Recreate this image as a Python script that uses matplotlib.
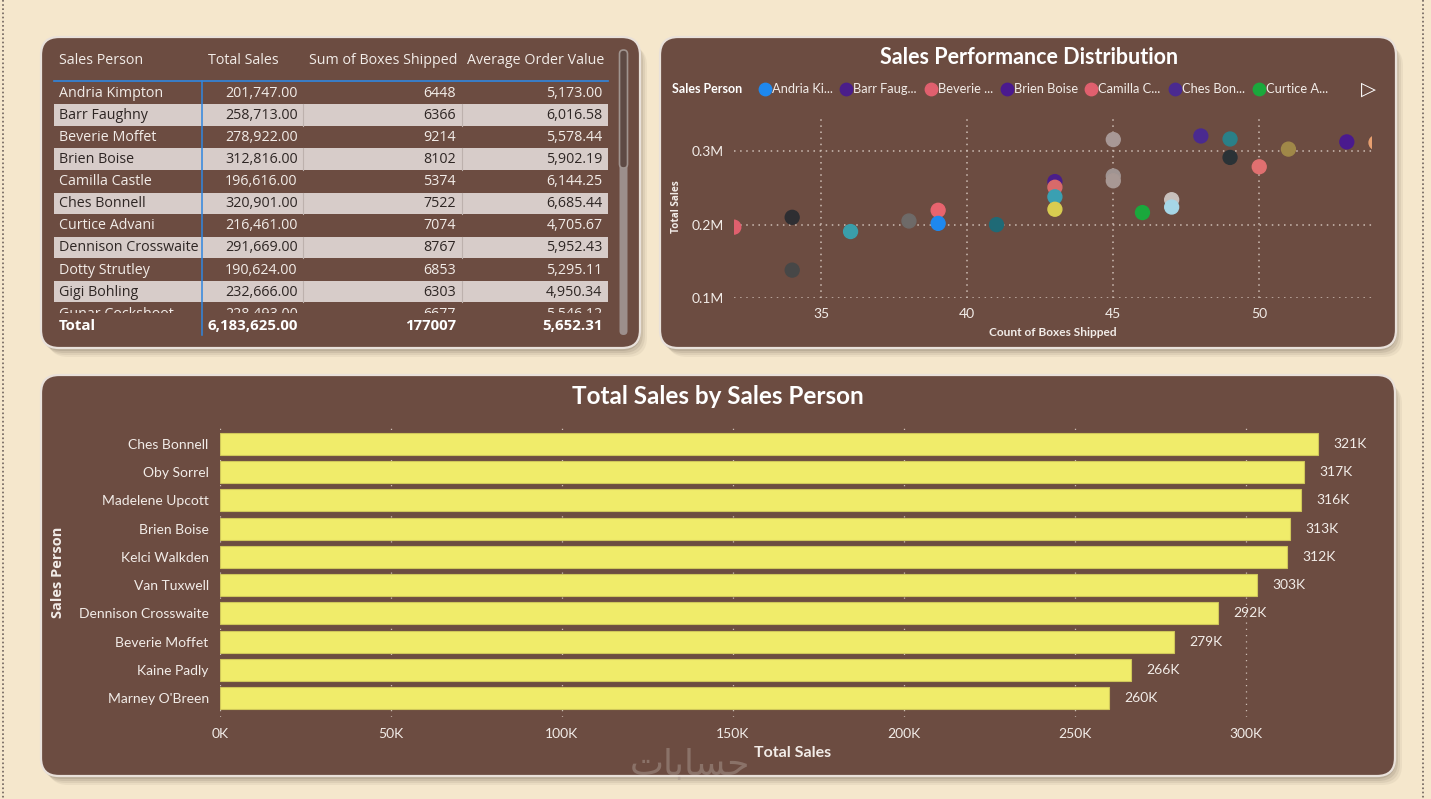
import numpy as np
import matplotlib.pyplot as plt
from matplotlib.patches import FancyBboxPatch, Rectangle
from matplotlib.ticker import FuncFormatter, FixedLocator

plt.rcParams['font.family'] = ['Open Sans', 'DejaVu Sans']
TITLE_FONT = ['Lato', 'DejaVu Sans']

# ---- table data ----
table_cols = ['Sales Person', 'Total Sales', 'Sum of Boxes Shipped', 'Average Order Value']
table_names = ['Andria Kimpton', 'Barr Faughny', 'Beverie Moffet', 'Brien Boise', 'Camilla Castle',
               'Ches Bonnell', 'Curtice Advani', 'Dennison Crosswaite', 'Dotty Strutley',
               'Gigi Bohling', 'Gunar Cockshoot']
table_sales = [201747, 258713, 278922, 312816, 196616, 320901, 216461, 291669, 190624, 232666, 228493]
table_boxes = [6448, 6366, 9214, 8102, 5374, 7522, 7074, 8767, 6853, 6303, 6677]
table_aov = [5173.00, 6016.58, 5578.44, 5902.19, 6144.25, 6685.44, 4705.67, 5952.43, 5295.11,
             4950.34, 5546.12]
total_sales = 6183625
total_boxes = 177007
total_aov = 5652.31

# ---- scatter data (count of boxes shipped vs total sales) ----
scatter_x = [32, 34, 34, 36, 38, 39, 39, 41, 43, 43, 43, 43, 45, 45, 45, 46, 47, 47,
             48, 49, 49, 50, 51, 53, 54]
scatter_y = [196616, 210000, 138000, 190624, 205000, 219600, 201747, 200000, 258713, 251000,
             238000, 221000, 316000, 266300, 259800, 216461, 234000, 224000, 320901, 316800,
             291669, 278922, 303000, 312816, 311800]
scatter_colors = ['#E0606E', '#2E2E32', '#474747', '#3A9EAA', '#6E6A68', '#E8646E', '#1E88EE',
                  '#1F6A76', '#4A1E8A', '#D86A6A', '#3AA0B2', '#D8CC50', '#A89896', '#A09492',
                  '#A89894', '#1AA83C', '#C8C0BC', '#A6D6E6', '#4A2A90', '#2A8088', '#2A3236',
                  '#E07070', '#A08848', '#4A1A8E', '#E8A070']
legend_labels = ['Andria Ki...', 'Barr Faug...', 'Beverie ...', 'Brien Boise', 'Camilla C...',
                 'Ches Bon...', 'Curtice A...']
legend_colors = ['#1E88EE', '#4A1E8A', '#E0606E', '#4A1A8E', '#E0606E', '#4A2A90', '#1AA83C']

# ---- bar data ----
bar_names = ['Ches Bonnell', 'Oby Sorrel', 'Madelene Upcott', 'Brien Boise', 'Kelci Walkden',
             'Van Tuxwell', 'Dennison Crosswaite', 'Beverie Moffet', 'Kaine Padly', "Marney O'Breen"]
bar_sales = [320901, 316800, 316000, 312816, 311800, 303000, 291669, 278922, 266300, 259800]

W, H = 1431, 799
BG = '#F5E7CC'
PANEL = '#6C4C41'
LIGHT = '#F2ECE8'
GRID = '#CDBDB4'

fig = plt.figure(figsize=(W / 100, H / 100), dpi=100, facecolor=BG)
bg = fig.add_axes([0, 0, 1, 1])
bg.set_xlim(0, W)
bg.set_ylim(H, 0)
bg.axis('off')


def frac(x0, y0, x1, y1):
    return [x0 / W, 1 - y1 / H, (x1 - x0) / W, (y1 - y0) / H]


def panel(x0, y0, x1, y1):
    # soft shadow, then the rounded card
    for i, a in enumerate([0.10, 0.14, 0.2, 0.28]):
        off = 9 - i * 2
        sh = FancyBboxPatch((x0 + off - 2, y0 + off), x1 - x0, y1 - y0,
                            boxstyle='round,pad=0,rounding_size=20',
                            fc='#8E8270', ec='none', alpha=a, zorder=1)
        bg.add_patch(sh)
    box = FancyBboxPatch((x0, y0), x1 - x0, y1 - y0, boxstyle='round,pad=0,rounding_size=18',
                         fc=PANEL, ec='#E9E1DA', lw=1.6, zorder=2)
    bg.add_patch(box)


# dotted page edges
bg.plot([2.5, 2.5], [0, H], ls=(0, (1, 1.5)), color='#6E625C', lw=1.2, zorder=1)
bg.plot([1422.5, 1422.5], [0, H], ls=(0, (1, 1.5)), color='#6E625C', lw=1.2, zorder=1)

panel(41, 37, 640, 348)
panel(660, 37, 1396, 348)
panel(41, 375, 1395, 776)

# ---------------- table ----------------
col_left = [59, 208, 309, 467]
col_right = [None, 297.5, 456, 602.5]
row0 = 92.7
row_h = 22.1
txt_kw = dict(fontsize=10.3, va='center', zorder=5)

for j, c in enumerate(table_cols):
    bg.text(col_left[j], 61, c, color=LIGHT, ha='left', **txt_kw)
bg.plot([54, 608], [80.5, 80.5], color='#2F86E0', lw=1.2, zorder=5)

clip = Rectangle((40, 81), 580, 313.4 - 81, transform=bg.transData)
for i, name in enumerate(table_names):
    yc = row0 + i * row_h
    light_row = i % 2 == 1
    if light_row:
        bg.add_patch(Rectangle((54, yc - 10.6), 554, 21.3, fc='#D7CCC9', ec='none', zorder=3))
        for sx in [303, 462]:
            bg.plot([sx, sx], [yc - 10.6, yc + 10.7], color='#BDB1AD', lw=0.8, zorder=4)
    col = '#2E2624' if light_row else LIGHT
    vals = [name, f'{table_sales[i]:,.2f}', f'{table_boxes[i]}', f'{table_aov[i]:,.2f}']
    for j, v in enumerate(vals):
        if j == 0:
            t = bg.text(col_left[0], yc + 0.5, v, color=col, ha='left', **txt_kw)
        else:
            t = bg.text(col_right[j], yc + 0.5, v, color=col, ha='right', **txt_kw)
        t.set_clip_on(True)
        t.set_clip_path(clip)

bg.plot([201.5, 201.5], [80.5, 335], color='#2F86E0', lw=1.1, zorder=5)
tot = [f'{total_sales:,.2f}', f'{total_boxes}', f'{total_aov:,.2f}']
bg.text(col_left[0], 326, 'Total', color='white', ha='left', fontweight='bold',
        fontsize=10.8, va='center', zorder=5)
for j, v in enumerate(tot):
    bg.text(col_right[j + 1], 326, v, color='white', ha='right', fontweight='bold',
            fontsize=10.8, va='center', zorder=5)

# scrollbar
bg.add_patch(FancyBboxPatch((619.5, 50), 8, 285, boxstyle='round,pad=0,rounding_size=4',
                            fc='#9C8F8C', ec='none', zorder=5))
bg.add_patch(FancyBboxPatch((619.5, 50), 8, 118, boxstyle='round,pad=0,rounding_size=4',
                            fc='#5E4A44', ec='#A0948F', lw=1.2, zorder=6))

# ---------------- scatter ----------------
bg.text(1029, 57, 'Sales Performance Distribution', color='white', fontsize=15.5,
        fontweight='bold', ha='center', va='center', family=TITLE_FONT, zorder=5)
bg.text(672, 89, 'Sales Person', color='white', fontsize=9, fontweight='bold',
        ha='left', va='center', family=TITLE_FONT, zorder=5)
leg_x = [765, 846, 931, 1007, 1091, 1175, 1259]
for lx, lab, lc in zip(leg_x, legend_labels, legend_colors):
    bg.scatter([lx], [89], s=80, color=lc, zorder=5)
    bg.text(lx + 7, 89, lab, color=LIGHT, fontsize=9.3, ha='left', va='center',
            family=TITLE_FONT, zorder=5)
bg.text(1368, 89, '▷', color='white', fontsize=14, ha='center', va='center',
        family=['DejaVu Sans'], zorder=5)

ax1 = fig.add_axes(frac(733.8, 115, 1372.5, 298))
ax1.set_facecolor('none')
ax1.scatter(scatter_x, scatter_y, s=100, c=scatter_colors, zorder=3, clip_on=True)
ax1.set_xlim(32, 53.88)
ax1.set_ylim(100000, 349500)
ax1.xaxis.set_major_locator(FixedLocator([35, 40, 45, 50]))
ax1.yaxis.set_major_locator(FixedLocator([100000, 200000, 300000]))
ax1.yaxis.set_major_formatter(FuncFormatter(lambda v, p: f'{v / 1e6:.1f}M'))
ax1.grid(True, color=GRID, ls=(0, (1, 3)), lw=1.1)
for s in ax1.spines.values():
    s.set_visible(False)
ax1.tick_params(length=0, colors=LIGHT, labelsize=10, pad=7)
for t in ax1.get_xticklabels() + ax1.get_yticklabels():
    t.set_family(TITLE_FONT)
ax1.set_xlabel('Count of Boxes Shipped', color=LIGHT, fontsize=8.6, fontweight='bold',
               family=TITLE_FONT, labelpad=5)
ax1.set_ylabel('Total Sales', color=LIGHT, fontsize=7.2, fontweight='bold', labelpad=7)

# ---------------- bar chart ----------------
bg.text(718, 396, 'Total Sales by Sales Person', color='white', fontsize=17.5,
        fontweight='bold', ha='center', va='center', family=TITLE_FONT, zorder=5)

ax2 = fig.add_axes(frac(219.8, 427, 1366, 717))
ax2.set_facecolor('none')
ypos = np.arange(len(bar_names))
ax2.barh(ypos, bar_sales, height=0.78, color='#F0EC6A', edgecolor='#CFC75A', lw=0.8, zorder=3)
ax2.set_ylim(9.67, -0.6)
ax2.set_xlim(0, 335000)
ax2.set_yticks(ypos)
ax2.set_yticklabels(bar_names)
ax2.xaxis.set_major_locator(FixedLocator([0, 50000, 100000, 150000, 200000, 250000, 300000]))
ax2.xaxis.set_major_formatter(FuncFormatter(lambda v, p: f'{v / 1000:.0f}K'))
ax2.grid(True, axis='x', color=GRID, ls=(0, (1, 4)), lw=0.9, zorder=0)
for s in ax2.spines.values():
    s.set_visible(False)
ax2.tick_params(length=0, colors=LIGHT, labelsize=10, pad=8)
for t in ax2.get_xticklabels() + ax2.get_yticklabels():
    t.set_family(TITLE_FONT)
for y, v in zip(ypos, bar_sales):
    ax2.text(v + 4500, y, f'{v / 1000:.0f}K', color=LIGHT, fontsize=10, va='center',
             ha='left', family=TITLE_FONT, zorder=5)
ax2.set_xlabel('Total Sales', color=LIGHT, fontsize=11.5, fontweight='bold', family=TITLE_FONT,
               labelpad=4)
ax2.set_ylabel('Sales Person', color=LIGHT, fontsize=10.5, fontweight='bold', labelpad=10)

# faint watermark
bg.text(690, 765, '\uFE95\uFE8E\uFE91\uFE8E\uFEB4\uFEA3', color='#A99890', alpha=0.5,
        fontsize=26, ha='center', va='center', family=['DejaVu Sans'], zorder=6)

fig.savefig('out.png', dpi=100, facecolor=BG)
